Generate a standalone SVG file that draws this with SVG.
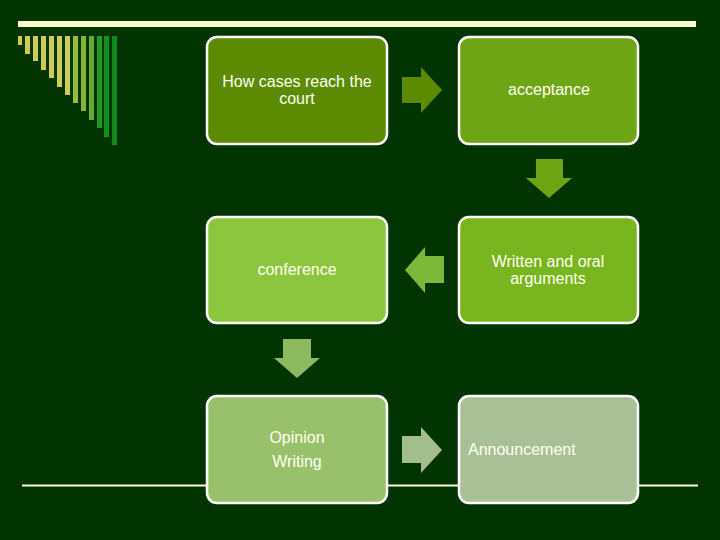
<svg xmlns="http://www.w3.org/2000/svg" width="720" height="540" viewBox="0 0 720 540">
<style>
.box{stroke:#FFFFFF;stroke-width:2.5}
.t{font-family:"Liberation Sans",Arial,sans-serif;font-size:16px;fill:#FFFFF0;text-anchor:middle}
.tl{text-anchor:start}
</style>
<rect width="720" height="540" fill="#013401"/>
<rect x="18" y="21" width="678" height="6" fill="#FFFFCC"/>
<g id="stripes">
<rect x="18" y="36" width="4" height="9" fill="#CCCC55"/>
<rect x="25" y="36" width="5" height="18" fill="#CCCC55"/>
<rect x="33" y="36" width="5" height="25" fill="#CCCC55"/>
<rect x="41" y="36" width="5" height="34" fill="#CCCC55"/>
<rect x="49" y="36" width="5" height="42" fill="#CCCC55"/>
<rect x="57" y="36" width="5" height="51" fill="#CCCC55"/>
<rect x="65" y="36" width="5" height="59" fill="#CCCC55"/>
<rect x="73" y="36" width="5" height="67" fill="#99BB33"/>
<rect x="81" y="36" width="5" height="75" fill="#88B333"/>
<rect x="89" y="36" width="5" height="84" fill="#66AA33"/>
<rect x="97" y="36" width="5" height="92" fill="#229922"/>
<rect x="104" y="36" width="5" height="101" fill="#119122"/>
<rect x="112" y="36" width="5" height="109" fill="#118A1A"/>
</g>
<line x1="22" y1="485.5" x2="698" y2="485.5" stroke="#FFFFCC" stroke-width="2"/>
<g id="connectors">
<polygon points="402,77 421,77 421,67 442,90 421,113 421,103 402,103" fill="#5C8A00"/>
<polygon points="536,159 563,159 563,178 572,178 549,198 526,178 536,178" fill="#6EA514"/>
<polygon points="444,256 425,256 425,247 405,270 425,293 425,283 444,283" fill="#7DB83A"/>
<polygon points="283,339 311,339 311,358 320,358 297,378 274,358 283,358" fill="#8EBA5F"/>
<polygon points="402,436 421,436 421,427 442,450 421,473 421,463 402,463" fill="#A3BE8B"/>
</g>
<g id="n1"><rect class="box" x="207" y="37" width="180" height="107" rx="10" fill="#5C8A00"/>
<text class="t" x="297" y="87">How cases reach the</text><text class="t" x="297" y="104">court</text></g>
<g id="n2"><rect class="box" x="459" y="37" width="179" height="107" rx="10" fill="#6EA514"/>
<text class="t" x="549" y="95">acceptance</text></g>
<g id="n3"><rect class="box" x="207" y="217" width="180" height="106" rx="10" fill="#8CC63F"/>
<text class="t" x="297" y="275">conference</text></g>
<g id="n4"><rect class="box" x="459" y="217" width="179" height="106" rx="10" fill="#78B51E"/>
<text class="t" x="548" y="267">Written and oral</text><text class="t" x="548" y="284">arguments</text></g>
<g id="n5"><rect class="box" x="207" y="396" width="180" height="107" rx="10" fill="#99C06A"/>
<text class="t" x="297" y="443">Opinion</text><text class="t" x="297" y="467">Writing</text></g>
<g id="n6"><rect class="box" x="459" y="396" width="179" height="107" rx="10" fill="#A9C097"/>
<text class="t tl" x="468" y="455">Announcement</text></g>
</svg>
